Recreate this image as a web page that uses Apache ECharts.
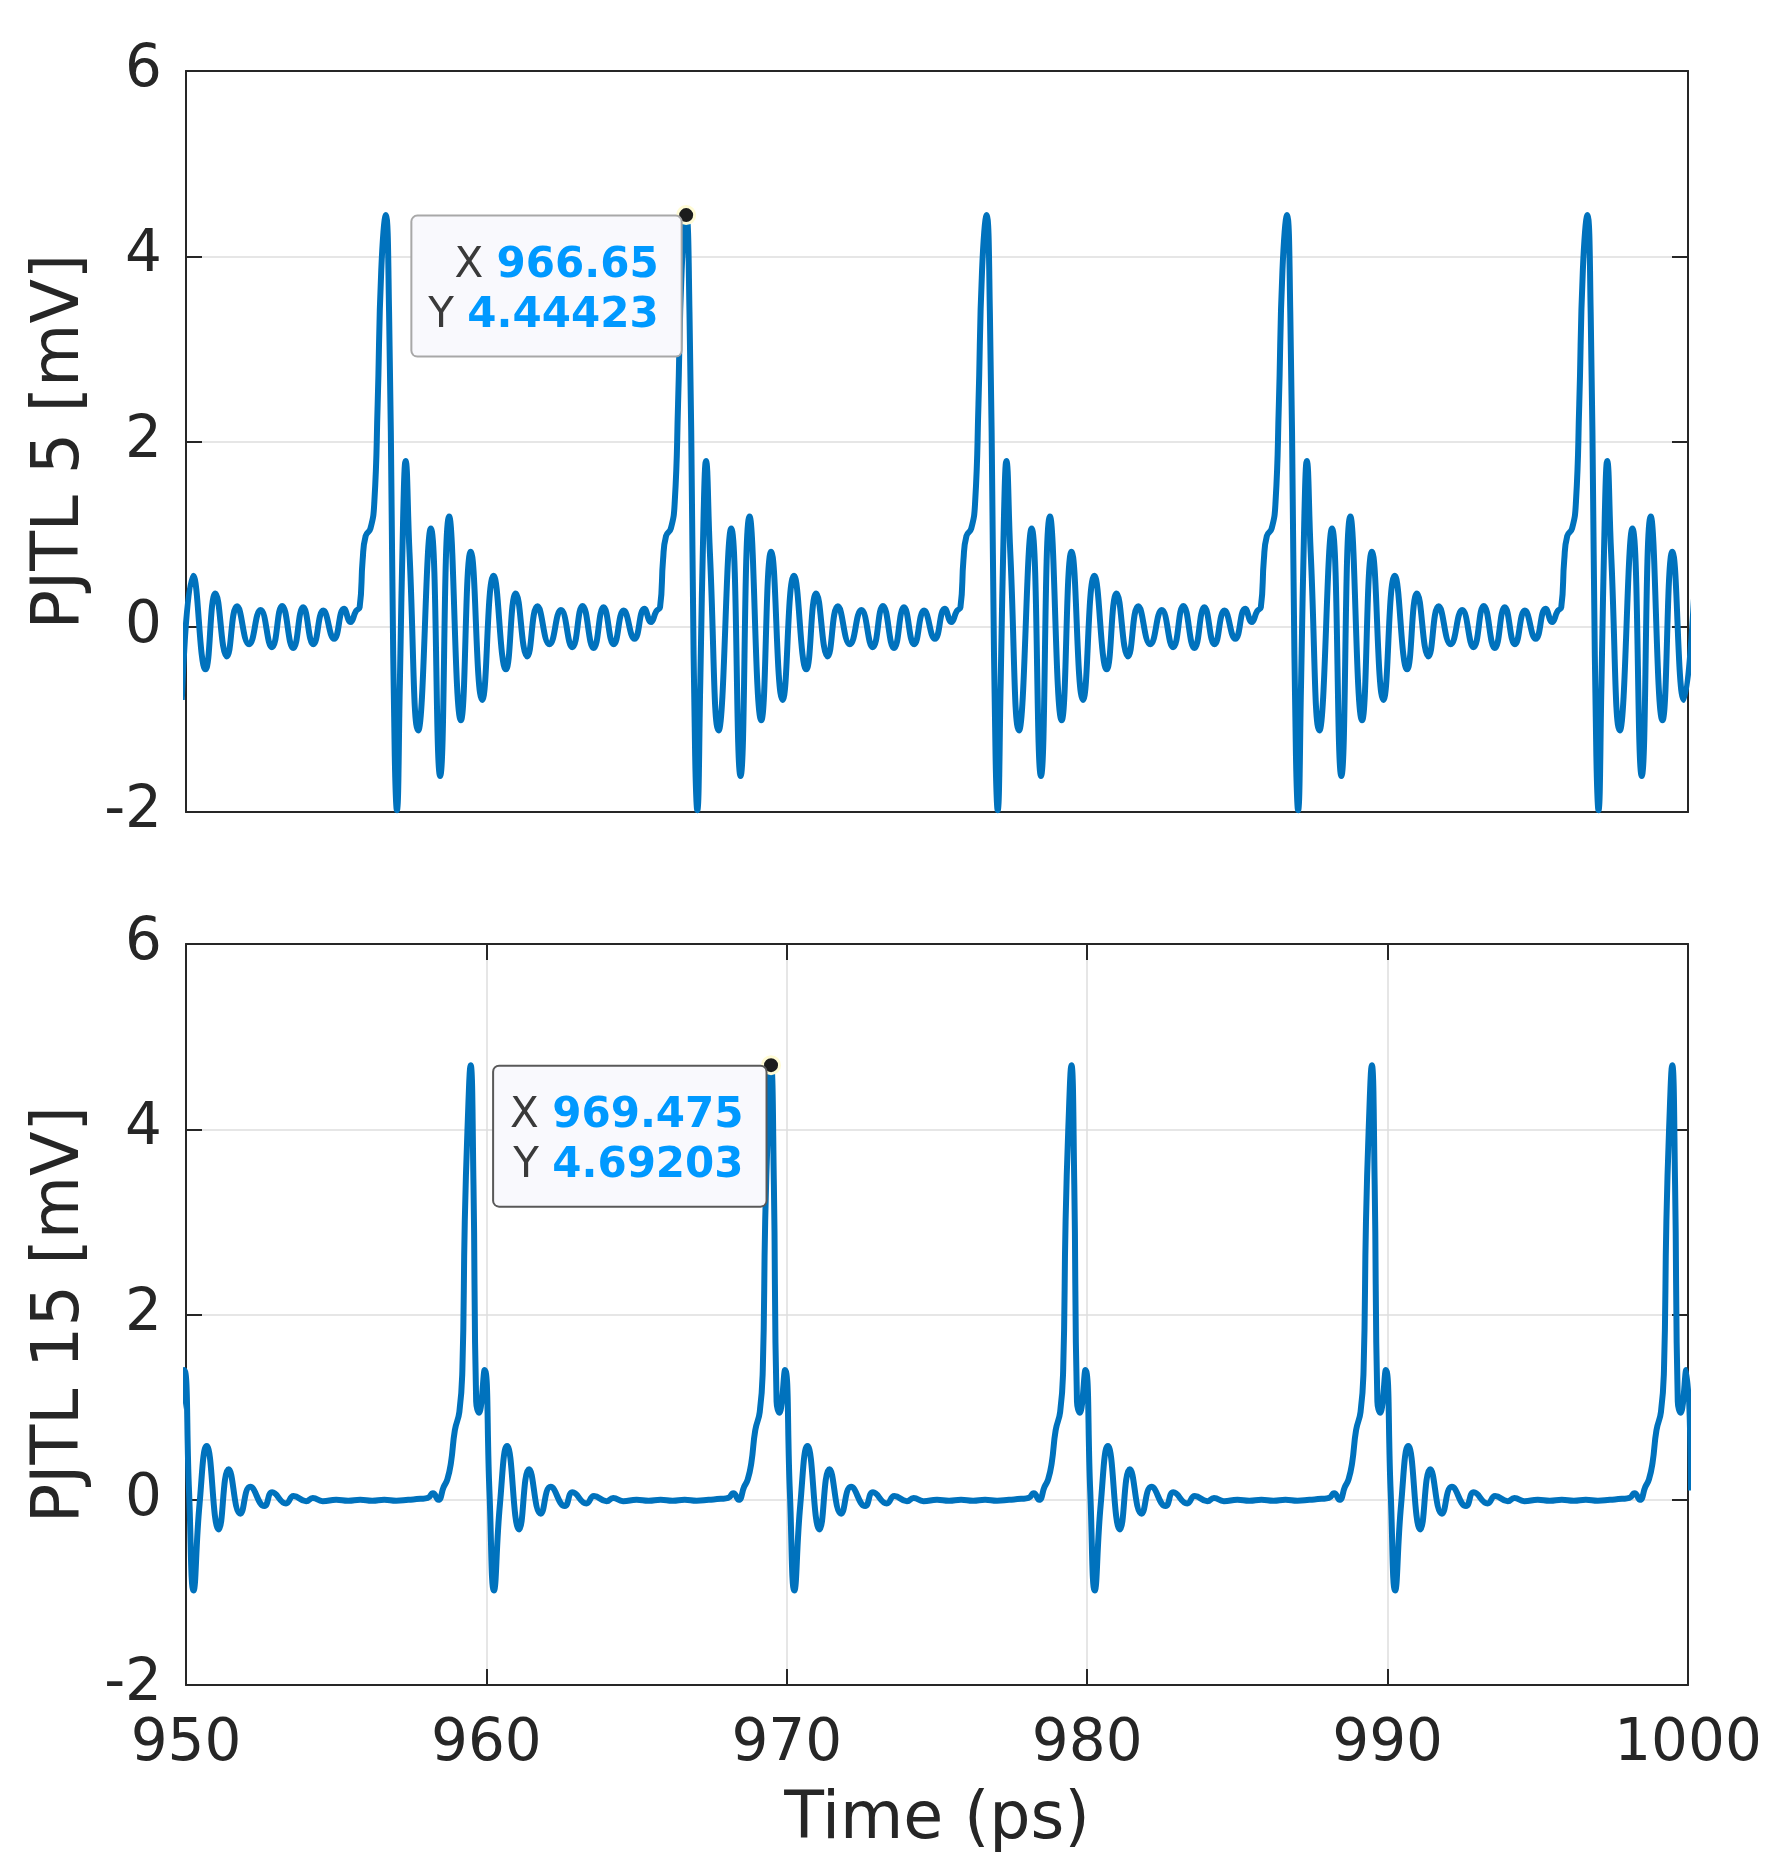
<!DOCTYPE html>
<html>
<head>
<meta charset="utf-8">
<script src="https://cdn.jsdelivr.net/npm/echarts@6/dist/echarts.min.js"></script>
<style>
html,body{margin:0;padding:0;background:#fff;}
#chart{width:1781px;height:1872px;}
</style>
</head>
<body>
<div id="chart"></div>
<script>
// ---- data ----
const xTicks = [950, 960, 970, 980, 990, 1000];
const yTicks = [-2, 0, 2, 4, 6];

const topTime = [
  949.86, 950.24, 950.65, 950.98, 951.36, 951.70, 952.10, 952.48, 952.86, 953.20, 953.57, 953.90, 954.24, 954.57, 954.93, 955.26, 955.48, 955.66, 955.78, 955.88, 955.98, 956.14, 956.27, 956.38, 956.50, 956.65, 956.76, 956.86, 956.95, 957.02, 957.12, 957.23, 957.31, 957.44, 957.73, 958.15, 958.46, 958.76, 959.15, 959.48,
  959.86, 960.24, 960.65, 960.98, 961.36, 961.70, 962.10, 962.48, 962.86, 963.20, 963.57, 963.90, 964.24, 964.57, 964.93, 965.26, 965.48, 965.66, 965.78, 965.88, 965.98, 966.14, 966.27, 966.38, 966.50, 966.65, 966.76, 966.86, 966.95, 967.02, 967.12, 967.23, 967.31, 967.44, 967.73, 968.15, 968.46, 968.76, 969.15, 969.48,
  969.86, 970.24, 970.65, 970.98, 971.36, 971.70, 972.10, 972.48, 972.86, 973.20, 973.57, 973.90, 974.24, 974.57, 974.93, 975.26, 975.48, 975.66, 975.78, 975.88, 975.98, 976.14, 976.27, 976.38, 976.50, 976.65, 976.76, 976.86, 976.95, 977.02, 977.12, 977.23, 977.31, 977.44, 977.73, 978.15, 978.46, 978.76, 979.15, 979.48,
  979.86, 980.24, 980.65, 980.98, 981.36, 981.70, 982.10, 982.48, 982.86, 983.20, 983.57, 983.90, 984.24, 984.57, 984.93, 985.26, 985.48, 985.66, 985.78, 985.88, 985.98, 986.14, 986.27, 986.38, 986.50, 986.65, 986.76, 986.86, 986.95, 987.02, 987.12, 987.23, 987.31, 987.44, 987.73, 988.15, 988.46, 988.76, 989.15, 989.48,
  989.86, 990.24, 990.65, 990.98, 991.36, 991.70, 992.10, 992.48, 992.86, 993.20, 993.57, 993.90, 994.24, 994.57, 994.93, 995.26, 995.48, 995.66, 995.78, 995.88, 995.98, 996.14, 996.27, 996.38, 996.50, 996.65, 996.76, 996.86, 996.95, 997.02, 997.12, 997.23, 997.31, 997.44, 997.73, 998.15, 998.46, 998.76, 999.15, 999.48,
  999.86, 1000.24
];
const topValue = [
  -0.79, 0.55, -0.46, 0.36, -0.32, 0.22, -0.19, 0.18, -0.22, 0.225, -0.23, 0.21, -0.19, 0.175, -0.13, 0.195, 0.05, 0.17, 0.21, 0.72, 0.98, 1.06, 1.35, 2.4, 3.85, 4.44423, 3.4, 0.8, -1.4, -1.98, -0.6, 1.2, 1.79, 0.8, -1.12, 1.06, -1.61, 1.19, -1.01, 0.81,
  -0.79, 0.55, -0.46, 0.36, -0.32, 0.22, -0.19, 0.18, -0.22, 0.225, -0.23, 0.21, -0.19, 0.175, -0.13, 0.195, 0.05, 0.17, 0.21, 0.72, 0.98, 1.06, 1.35, 2.4, 3.85, 4.44423, 3.4, 0.8, -1.4, -1.98, -0.6, 1.2, 1.79, 0.8, -1.12, 1.06, -1.61, 1.19, -1.01, 0.81,
  -0.79, 0.55, -0.46, 0.36, -0.32, 0.22, -0.19, 0.18, -0.22, 0.225, -0.23, 0.21, -0.19, 0.175, -0.13, 0.195, 0.05, 0.17, 0.21, 0.72, 0.98, 1.06, 1.35, 2.4, 3.85, 4.44423, 3.4, 0.8, -1.4, -1.98, -0.6, 1.2, 1.79, 0.8, -1.12, 1.06, -1.61, 1.19, -1.01, 0.81,
  -0.79, 0.55, -0.46, 0.36, -0.32, 0.22, -0.19, 0.18, -0.22, 0.225, -0.23, 0.21, -0.19, 0.175, -0.13, 0.195, 0.05, 0.17, 0.21, 0.72, 0.98, 1.06, 1.35, 2.4, 3.85, 4.44423, 3.4, 0.8, -1.4, -1.98, -0.6, 1.2, 1.79, 0.8, -1.12, 1.06, -1.61, 1.19, -1.01, 0.81,
  -0.79, 0.55, -0.46, 0.36, -0.32, 0.22, -0.19, 0.18, -0.22, 0.225, -0.23, 0.21, -0.19, 0.175, -0.13, 0.195, 0.05, 0.17, 0.21, 0.72, 0.98, 1.06, 1.35, 2.4, 3.85, 4.44423, 3.4, 0.8, -1.4, -1.98, -0.6, 1.2, 1.79, 0.8, -1.12, 1.06, -1.61, 1.19, -1.01, 0.81,
  -0.79, 0.55
];

const bottomTime = [
  949.475, 949.57, 949.66, 949.75, 949.94, 950.10, 950.25, 950.45, 950.69, 951.09, 951.42, 951.81, 952.14, 952.61, 952.87, 953.33, 953.58, 954.00, 954.22, 954.55, 955.00, 955.40, 955.80, 956.20, 956.60, 957.00, 957.40, 957.80, 958.05, 958.22, 958.40, 958.58, 958.70, 958.82, 958.95, 959.10, 959.20, 959.28, 959.37,
  959.475, 959.57, 959.66, 959.75, 959.94, 960.10, 960.25, 960.45, 960.69, 961.09, 961.42, 961.81, 962.14, 962.61, 962.87, 963.33, 963.58, 964.00, 964.22, 964.55, 965.00, 965.40, 965.80, 966.20, 966.60, 967.00, 967.40, 967.80, 968.05, 968.22, 968.40, 968.58, 968.70, 968.82, 968.95, 969.10, 969.20, 969.28, 969.37,
  969.475, 969.57, 969.66, 969.75, 969.94, 970.10, 970.25, 970.45, 970.69, 971.09, 971.42, 971.81, 972.14, 972.61, 972.87, 973.33, 973.58, 974.00, 974.22, 974.55, 975.00, 975.40, 975.80, 976.20, 976.60, 977.00, 977.40, 977.80, 978.05, 978.22, 978.40, 978.58, 978.70, 978.82, 978.95, 979.10, 979.20, 979.28, 979.37,
  979.475, 979.57, 979.66, 979.75, 979.94, 980.10, 980.25, 980.45, 980.69, 981.09, 981.42, 981.81, 982.14, 982.61, 982.87, 983.33, 983.58, 984.00, 984.22, 984.55, 985.00, 985.40, 985.80, 986.20, 986.60, 987.00, 987.40, 987.80, 988.05, 988.22, 988.40, 988.58, 988.70, 988.82, 988.95, 989.10, 989.20, 989.28, 989.37,
  989.475, 989.57, 989.66, 989.75, 989.94, 990.10, 990.25, 990.45, 990.69, 991.09, 991.42, 991.81, 992.14, 992.61, 992.87, 993.33, 993.58, 994.00, 994.22, 994.55, 995.00, 995.40, 995.80, 996.20, 996.60, 997.00, 997.40, 997.80, 998.05, 998.22, 998.40, 998.58, 998.70, 998.82, 998.95, 999.10, 999.20, 999.28, 999.37,
  999.475, 999.57, 999.66, 999.75, 999.94, 1000.10
];
const bottomValue = [
  4.69203, 3.4, 1.06, 0.94, 1.40, 0.1, -0.98, -0.05, 0.58, -0.32, 0.33, -0.15, 0.14, -0.068, 0.08, -0.04, 0.04, -0.015, 0.02, -0.015, 0.0, -0.01, 0.0, -0.01, 0.0, -0.01, 0.0, 0.01, 0.02, 0.07, 0.0, 0.14, 0.22, 0.40, 0.75, 0.95, 1.4, 3.0, 4.0,
  4.69203, 3.4, 1.06, 0.94, 1.40, 0.1, -0.98, -0.05, 0.58, -0.32, 0.33, -0.15, 0.14, -0.068, 0.08, -0.04, 0.04, -0.015, 0.02, -0.015, 0.0, -0.01, 0.0, -0.01, 0.0, -0.01, 0.0, 0.01, 0.02, 0.07, 0.0, 0.14, 0.22, 0.40, 0.75, 0.95, 1.4, 3.0, 4.0,
  4.69203, 3.4, 1.06, 0.94, 1.40, 0.1, -0.98, -0.05, 0.58, -0.32, 0.33, -0.15, 0.14, -0.068, 0.08, -0.04, 0.04, -0.015, 0.02, -0.015, 0.0, -0.01, 0.0, -0.01, 0.0, -0.01, 0.0, 0.01, 0.02, 0.07, 0.0, 0.14, 0.22, 0.40, 0.75, 0.95, 1.4, 3.0, 4.0,
  4.69203, 3.4, 1.06, 0.94, 1.40, 0.1, -0.98, -0.05, 0.58, -0.32, 0.33, -0.15, 0.14, -0.068, 0.08, -0.04, 0.04, -0.015, 0.02, -0.015, 0.0, -0.01, 0.0, -0.01, 0.0, -0.01, 0.0, 0.01, 0.02, 0.07, 0.0, 0.14, 0.22, 0.40, 0.75, 0.95, 1.4, 3.0, 4.0,
  4.69203, 3.4, 1.06, 0.94, 1.40, 0.1, -0.98, -0.05, 0.58, -0.32, 0.33, -0.15, 0.14, -0.068, 0.08, -0.04, 0.04, -0.015, 0.02, -0.015, 0.0, -0.01, 0.0, -0.01, 0.0, -0.01, 0.0, 0.01, 0.02, 0.07, 0.0, 0.14, 0.22, 0.40, 0.75, 0.95, 1.4, 3.0, 4.0,
  4.69203, 3.4, 1.06, 0.94, 1.40, 0.1
];

// data tips
const tipTop = [966.65, 4.44423];
const tipBottom = [969.475, 4.69203];

const topLabel = 'PJTL 5 [mV]';
const bottomLabel = 'PJTL 15 [mV]';
const xLabel = 'Time (ps)';

// ---- chart ----
const FONT = "'DejaVu Sans', sans-serif";
const INK = '#262626';
const GRID = '#dedede';
const LINE = '#0072BD';

function zip(t, v) { return t.map((x, i) => [x, v[i]]); }

function xAx(gridIndex, position, opts) {
  return Object.assign({
    type: 'value', gridIndex, position,
    min: xTicks[0], max: xTicks[xTicks.length - 1], interval: xTicks[1] - xTicks[0],
    axisLine: { show: true, onZero: false, lineStyle: { color: INK, width: 2 } },
    axisTick: { show: false },
    axisLabel: { show: false },
    splitLine: { show: false }
  }, opts || {});
}
function yAx(gridIndex, position, opts) {
  return Object.assign({
    type: 'value', gridIndex, position,
    min: yTicks[0], max: yTicks[yTicks.length - 1], interval: yTicks[1] - yTicks[0],
    axisLine: { show: true, onZero: false, lineStyle: { color: INK, width: 2 } },
    axisTick: { show: true, inside: true, length: 16, lineStyle: { color: INK, width: 2 } },
    axisLabel: { show: false },
    splitLine: { show: false }
  }, opts || {});
}
const yLabelOpts = name => ({
  axisLabel: { show: true, fontSize: 58, color: INK, fontFamily: FONT, margin: 24, formatter: v => String(v) },
  splitLine: { show: true, lineStyle: { color: GRID, width: 1.5 } },
  name: name, nameLocation: 'middle', nameGap: 91, nameRotate: 90,
  nameTextStyle: { fontSize: 65, color: INK, fontFamily: FONT }
});

function tipMark(tip, border) {
  return {
    symbol: 'circle', symbolSize: 17,
    itemStyle: { color: '#1c1c1c', borderColor: '#fffbd5', borderWidth: 3 },
    data: [{ coord: tip }],
    label: {
      show: true,
      position: [4.5, 11.5],
      align: 'right', verticalAlign: 'top',
      fontSize: 42, fontFamily: FONT,
      backgroundColor: '#f9f9fd',
      borderColor: border, borderWidth: 2, borderRadius: 5,
      padding: [24, 22, 15, 16],
      formatter: () => '{k|X} {v|' + String(tip[0]) + '}\n{k|Y} {v|' + String(tip[1]) + '}',
      rich: {
        k: { color: '#3a3a3a', fontSize: 42, fontFamily: FONT, lineHeight: 50 },
        v: { color: '#0099ff', fontSize: 42, fontWeight: 'bold', fontFamily: FONT, lineHeight: 50 }
      }
    },
    animation: false
  };
}

const chart = echarts.init(document.getElementById('chart'), null, { renderer: 'canvas' });
chart.setOption({
  animation: false,
  backgroundColor: '#ffffff',
  grid: [
    { left: 186, top: 71, width: 1502, height: 741 },
    { left: 186, top: 944, width: 1502, height: 741 }
  ],
  xAxis: [
    xAx(0, 'bottom'),
    xAx(0, 'top'),
    xAx(1, 'bottom', {
      axisTick: { show: true, inside: true, length: 16, lineStyle: { color: INK, width: 2 } },
      axisLabel: { show: true, fontSize: 58, color: INK, fontFamily: FONT, margin: 31, formatter: v => String(v) },
      splitLine: { show: true, lineStyle: { color: GRID, width: 1.5 } },
      name: xLabel, nameLocation: 'middle', nameGap: 104,
      nameTextStyle: { fontSize: 65, color: INK, fontFamily: FONT }
    }),
    xAx(1, 'top', {
      axisTick: { show: true, inside: true, length: 16, lineStyle: { color: INK, width: 2 } }
    })
  ],
  yAxis: [
    yAx(0, 'left', yLabelOpts(topLabel)),
    yAx(0, 'right'),
    yAx(1, 'left', yLabelOpts(bottomLabel)),
    yAx(1, 'right')
  ],
  series: [
    {
      type: 'line', xAxisIndex: 0, yAxisIndex: 0,
      data: zip(topTime, topValue),
      showSymbol: false, smooth: 0.5, clip: true,
      lineStyle: { color: LINE, width: 6 },
      markPoint: tipMark(tipTop, '#a8a8a8')
    },
    {
      type: 'line', xAxisIndex: 2, yAxisIndex: 2,
      data: zip(bottomTime, bottomValue),
      showSymbol: false, smooth: 0.5, clip: true,
      lineStyle: { color: LINE, width: 6 },
      markPoint: tipMark(tipBottom, '#595959')
    }
  ]
});
</script>
</body>
</html>
